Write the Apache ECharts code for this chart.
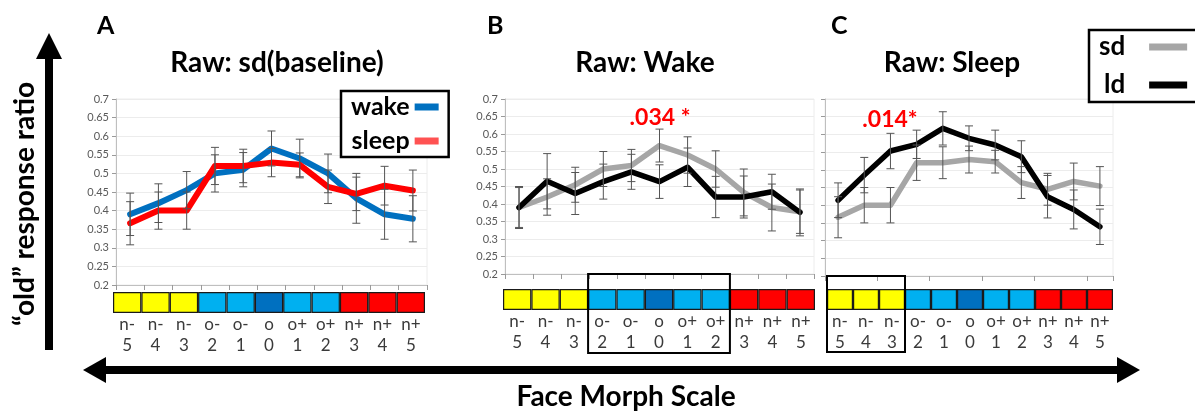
<!DOCTYPE html>
<html>
<head>
<meta charset="utf-8">
<script src="https://cdn.jsdelivr.net/npm/echarts@6/dist/echarts.min.js"></script>
<style>
  html, body { margin: 0; padding: 0; background: #fff; }
  #chart { width: 1195px; height: 412px; }
</style>
</head>
<body>
<div id="chart"></div>
<script>
// Morph steps along the face scale
const categories = ['n-5', 'n-4', 'n-3', 'o-2', 'o-1', 'o0', 'o+1', 'o+2', 'n+3', 'n+4', 'n+5'];
const tickTop = ['n-', 'n-', 'n-', 'o-', 'o-', 'o', 'o+', 'o+', 'n+', 'n+', 'n+'];
const tickBottom = ['5', '4', '3', '2', '1', '0', '1', '2', '3', '4', '5'];
const cellGroup = ['new-', 'new-', 'new-', 'old', 'old', 'center', 'old', 'old', 'new+', 'new+', 'new+'];

// "old" response ratio, mean and SEM per step
const sdWake = [0.39, 0.42, 0.455, 0.50, 0.51, 0.567, 0.54, 0.50, 0.433, 0.39, 0.378];
const sdWakeErr = [0.057, 0.052, 0.05, 0.05, 0.046, 0.047, 0.052, 0.052, 0.067, 0.067, 0.062];
const sdSleep = [0.366, 0.40, 0.40, 0.52, 0.52, 0.529, 0.523, 0.464, 0.445, 0.467, 0.454];
const sdSleepErr = [0.058, 0.05, 0.05, 0.05, 0.045, 0.038, 0.032, 0.045, 0.045, 0.052, 0.055];
const ldWake = [0.39, 0.465, 0.43, 0.464, 0.492, 0.464, 0.505, 0.42, 0.42, 0.435, 0.376];
const ldWakeErr = [0.06, 0.079, 0.06, 0.05, 0.05, 0.048, 0.055, 0.059, 0.06, 0.05, 0.067];
const ldSleep = [0.414, 0.485, 0.553, 0.572, 0.617, 0.589, 0.57, 0.537, 0.424, 0.388, 0.339];
const ldSleepErr = [0.049, 0.05, 0.05, 0.04, 0.047, 0.035, 0.042, 0.045, 0.06, 0.055, 0.05];

const yMin = 0.2, yMax = 0.7, yStep = 0.05;

const FONT = 'Lato, "Open Sans", sans-serif';
const groupColor = { 'new-': '#ffff00', 'old': '#00b0f0', 'center': '#0070c0', 'new+': '#ff0000' };

const chart = echarts.init(document.getElementById('chart'), null, { renderer: 'canvas' });

const lineGrids = [
  { left: 116, top: 99, width: 311, height: 186 },
  { left: 505, top: 99, width: 309, height: 175 },
  { left: 825, top: 99, width: 288, height: 177 }
];
const barGrids = [
  { left: 113, top: 292, width: 312, height: 21 },
  { left: 503, top: 289, width: 312, height: 21 },
  { left: 827, top: 289, width: 286, height: 21 }
];

const grids = lineGrids.concat(barGrids).map((g, i) => Object.assign({
  show: i < 3, borderColor: '#ececec', borderWidth: 1, containLabel: false
}, g));

const xAxes = [], yAxes = [];
for (let i = 0; i < 3; i++) {
  xAxes.push({
    type: 'category', gridIndex: i, data: categories, boundaryGap: true,
    axisLine: { lineStyle: { color: '#bfbfbf', width: 1 } },
    axisTick: { show: true, length: 5, lineStyle: { color: '#9a9a9a' } },
    axisLabel: { show: false }, splitLine: { show: false }
  });
  yAxes.push({
    type: 'value', gridIndex: i, min: yMin, max: yMax, interval: yStep,
    axisLine: { show: true, lineStyle: { color: '#bfbfbf' } },
    axisTick: { show: true, length: 4, lineStyle: { color: '#9a9a9a' } },
    axisLabel: {
      show: i < 2, fontFamily: FONT, fontSize: 11, color: '#595959', margin: 7,
      formatter: v => String(Math.round(v * 100) / 100)
    },
    splitLine: { show: true, lineStyle: { color: '#ececec' } }
  });
}
for (let i = 0; i < 3; i++) {
  xAxes.push({
    type: 'category', gridIndex: 3 + i, data: categories, boundaryGap: true,
    axisLine: { show: false }, axisTick: { show: false },
    axisLabel: {
      interval: 0, hideOverlap: false, margin: 1, fontFamily: FONT, fontSize: 17,
      lineHeight: 21, color: '#3a3a3a',
      formatter: (v, idx) => tickTop[idx] + '\n' + tickBottom[idx]
    }
  });
  yAxes.push({ type: 'value', gridIndex: 3 + i, min: 0, max: 1, show: false });
}

function errItem(vals, errs) {
  return vals.map((v, i) => [i, v - errs[i], v + errs[i]]);
}
function renderErr(params, api) {
  const idx = api.value(0);
  const lo = api.coord([idx, api.value(1)]);
  const hi = api.coord([idx, api.value(2)]);
  const cw = 4;
  const st = { stroke: '#555', lineWidth: 1 };
  return {
    type: 'group',
    children: [
      { type: 'line', shape: { x1: lo[0], y1: lo[1], x2: hi[0], y2: hi[1] }, style: st },
      { type: 'line', shape: { x1: lo[0] - cw, y1: lo[1], x2: lo[0] + cw, y2: lo[1] }, style: st },
      { type: 'line', shape: { x1: hi[0] - cw, y1: hi[1], x2: hi[0] + cw, y2: hi[1] }, style: st }
    ]
  };
}
function lineSeries(name, data, k, color, width, z) {
  return {
    type: 'line', name, data, xAxisIndex: k, yAxisIndex: k, symbol: 'none',
    lineStyle: { color, width, cap: 'round', join: 'round' }, itemStyle: { color },
    z, silent: true
  };
}
function errSeries(name, vals, errs, k) {
  return {
    type: 'custom', name, xAxisIndex: k, yAxisIndex: k, data: errItem(vals, errs),
    renderItem: renderErr, z: 10, silent: true
  };
}
function cellSeries(k) {
  return {
    type: 'bar', xAxisIndex: k, yAxisIndex: k, barWidth: '100%', silent: true,
    data: cellGroup.map(g => ({ value: 1, itemStyle: { color: groupColor[g] } })),
    itemStyle: { borderColor: '#1a1a1a', borderWidth: 1.2 }
  };
}

const series = [
  // A: short-delay baseline, wake vs sleep
  lineSeries('wake', sdWake, 0, '#0070c0', 6, 2),
  lineSeries('sleep', sdSleep, 0, '#ff0000', 6, 3),
  errSeries('wake-sem', sdWake, sdWakeErr, 0),
  errSeries('sleep-sem', sdSleep, sdSleepErr, 0),
  // B: wake, short vs long delay
  lineSeries('sd', sdWake, 1, '#a6a6a6', 5.5, 2),
  lineSeries('ld', ldWake, 1, '#000000', 5.5, 3),
  errSeries('sd-wake-sem', sdWake, sdWakeErr, 1),
  errSeries('ld-wake-sem', ldWake, ldWakeErr, 1),
  // C: sleep, short vs long delay
  lineSeries('sd', sdSleep, 2, '#a6a6a6', 5.5, 2),
  lineSeries('ld', ldSleep, 2, '#000000', 5.5, 3),
  errSeries('sd-sleep-sem', sdSleep, sdSleepErr, 2),
  errSeries('ld-sleep-sem', ldSleep, ldSleepErr, 2),
  // colour-coded morph steps
  cellSeries(3), cellSeries(4), cellSeries(5)
];

const titleStyle = { fontFamily: FONT, fontSize: 28, fontWeight: 'bold', color: '#000' };
const letterStyle = { fontFamily: FONT, fontSize: 25, fontWeight: 'bold', color: '#000' };

const option = {
  animation: false,
  grid: grids,
  xAxis: xAxes,
  yAxis: yAxes,
  series,
  title: [
    { text: 'Raw: sd(baseline)', left: 272, top: 44, textAlign: 'center', textStyle: titleStyle },
    { text: 'Raw: Wake', left: 640, top: 44, textAlign: 'center', textStyle: titleStyle },
    { text: 'Raw: Sleep', left: 947, top: 44, textAlign: 'center', textStyle: titleStyle },
    { text: 'A', left: 92, top: 8, textStyle: letterStyle },
    { text: 'B', left: 482, top: 8, textStyle: letterStyle },
    { text: 'C', left: 826, top: 8, textStyle: letterStyle }
  ],
  legend: [
    {
      data: [
        { name: 'wake', icon: 'rect' },
        { name: 'sleep', icon: 'rect', itemStyle: { color: '#ff5252' } }
      ],
      left: 341, top: 91, orient: 'vertical', align: 'right',
      itemWidth: 24, itemHeight: 7, itemGap: 6,
      padding: [2, 10, 2, 10], borderColor: '#000', borderWidth: 2.5,
      backgroundColor: '#fff', selectedMode: false,
      textStyle: { fontFamily: FONT, fontSize: 25, fontWeight: 'bold', color: '#000', lineHeight: 28 }
    },
    {
      data: [{ name: 'sd', icon: 'rect' }, { name: 'ld', icon: 'rect' }],
      left: 1089, top: 30, orient: 'vertical', align: 'right',
      itemWidth: 38, itemHeight: 7, itemGap: 8,
      padding: [2, 10, 2, 10], borderColor: '#000', borderWidth: 2.5,
      backgroundColor: '#fff', selectedMode: false,
      formatter: n => n + '   ',
      textStyle: { fontFamily: FONT, fontSize: 26, fontWeight: 'bold', color: '#000', lineHeight: 30 }
    }
  ],
  graphic: []
};

chart.setOption(option);

// Frame around a run of morph steps, spanning from the plot floor to below the step labels
function frame(k, i0, i1, bottom) {
  const p0 = chart.convertToPixel({ xAxisIndex: 3 + k }, categories[i0]);
  const p1 = chart.convertToPixel({ xAxisIndex: 3 + k }, categories[i0 + 1]);
  const pe = chart.convertToPixel({ xAxisIndex: 3 + k }, categories[i1]);
  const half = (p1 - p0) / 2;
  const top = chart.convertToPixel({ yAxisIndex: k }, yMin);
  return {
    type: 'rect', z: 20, silent: true,
    shape: { x: p0 - half, y: top, width: pe - p0 + 2 * half, height: bottom - top },
    style: { fill: 'none', stroke: '#000', lineWidth: 2 }
  };
}

const boldText = (text, x, y, size, color, extra) => Object.assign({
  type: 'text', x, y, silent: true, z: 30,
  style: { text, fill: color, font: 'bold ' + size + 'px ' + FONT, textAlign: 'center', textVerticalAlign: 'middle' }
}, extra || {});

chart.setOption({
  graphic: [
    frame(1, 3, 7, 353),
    frame(2, 0, 2, 352),
    // p-value callouts
    boldText('.034 *', 660, 118, 23, '#ff0000'),
    boldText('.014*', 890, 120, 23, '#ff0000'),
    // vertical axis arrow with its caption
    { type: 'rect', silent: true, shape: { x: 45, y: 54, width: 8, height: 296 }, style: { fill: '#000' } },
    { type: 'polygon', silent: true, shape: { points: [[36, 59], [49, 33], [62, 59]] }, style: { fill: '#000' } },
    boldText('\u201Cold\u201D response ratio', 25, 204, 28, '#000', { rotation: Math.PI / 2 }),
    // horizontal double-headed arrow with its caption
    { type: 'rect', silent: true, shape: { x: 100, y: 366, width: 1022, height: 8 }, style: { fill: '#000' } },
    { type: 'polygon', silent: true, shape: { points: [[83, 370], [106, 357], [106, 383]] }, style: { fill: '#000' } },
    { type: 'polygon', silent: true, shape: { points: [[1140, 370], [1117, 357], [1117, 383]] }, style: { fill: '#000' } },
    boldText('Face Morph Scale', 626, 397, 28, '#000')
  ]
});
</script>
</body>
</html>
